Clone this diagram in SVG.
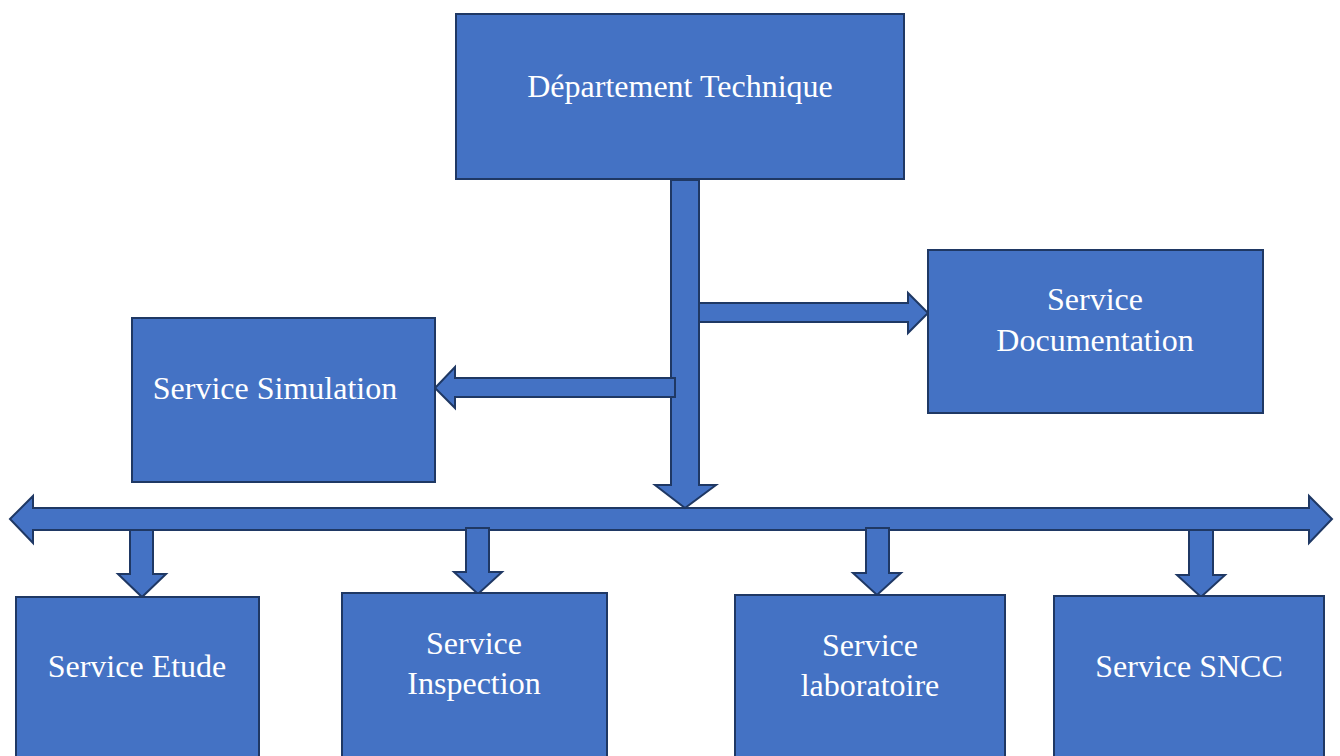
<svg xmlns="http://www.w3.org/2000/svg" width="1340" height="756" viewBox="0 0 1340 756">
  <style>
    .box { fill: #4472C4; stroke: #1F3864; stroke-width: 2; }
    .arrow { fill: #4472C4; stroke: #1F3864; stroke-width: 2; stroke-linejoin: miter; }
    .label { fill: #FFFFFF; font-family: "Liberation Serif", "Times New Roman", serif; font-size: 32px; text-anchor: middle; }
  </style>
  <rect width="1340" height="756" fill="#FFFFFF"/>

  <!-- connectors: block arrows -->
  <g id="connectors">
    <!-- main bus: double-headed horizontal arrow -->
    <polygon class="arrow" points="10,519 33,496 33,508 1309,508 1309,496 1332,519 1309,543 1309,530 33,530 33,543"/>
    <!-- trunk from the department down to the bus -->
    <polygon class="arrow" points="671,180 699,180 699,485 716,485 685,508 655,485 671,485"/>
    <!-- branch to Service Simulation -->
    <polygon class="arrow" points="675,378 675,397 455,397 455,408 435,388 455,367 455,378"/>
    <!-- branch to Service Documentation -->
    <polygon class="arrow" points="699,303 908,303 908,293 928,313 908,333 908,322 699,322"/>
    <!-- drops from the bus to each service -->
    <polygon class="arrow" points="130,530 153,530 153,574 166,574 142,597 118,574 130,574"/>
    <polygon class="arrow" points="466,528 489,528 489,572 502,572 478,594 454,572 466,572"/>
    <polygon class="arrow" points="866,528 889,528 889,573 901,573 877,595 853,573 866,573"/>
    <polygon class="arrow" points="1189,530 1213,530 1213,575 1225,575 1201,597 1177,575 1189,575"/>
  </g>

  <g id="node-departement">
    <rect class="box" x="456" y="14" width="448" height="165"/>
    <text class="label" x="680" y="97">Département Technique</text>
  </g>

  <g id="node-documentation">
    <rect class="box" x="928" y="250" width="335" height="163"/>
    <text class="label" x="1095" y="310">Service</text>
    <text class="label" x="1095" y="351">Documentation</text>
  </g>

  <g id="node-simulation">
    <rect class="box" x="132" y="318" width="303" height="164"/>
    <text class="label" x="275" y="399">Service Simulation</text>
  </g>

  <g id="node-etude">
    <rect class="box" x="16" y="597" width="243" height="170"/>
    <text class="label" x="137" y="677">Service Etude</text>
  </g>

  <g id="node-inspection">
    <rect class="box" x="342" y="593" width="265" height="175"/>
    <text class="label" x="474" y="654">Service</text>
    <text class="label" x="474" y="694">Inspection</text>
  </g>

  <g id="node-laboratoire">
    <rect class="box" x="735" y="595" width="270" height="172"/>
    <text class="label" x="870" y="656">Service</text>
    <text class="label" x="870" y="696">laboratoire</text>
  </g>

  <g id="node-sncc">
    <rect class="box" x="1054" y="596" width="270" height="172"/>
    <text class="label" x="1189" y="677">Service SNCC</text>
  </g>
</svg>
